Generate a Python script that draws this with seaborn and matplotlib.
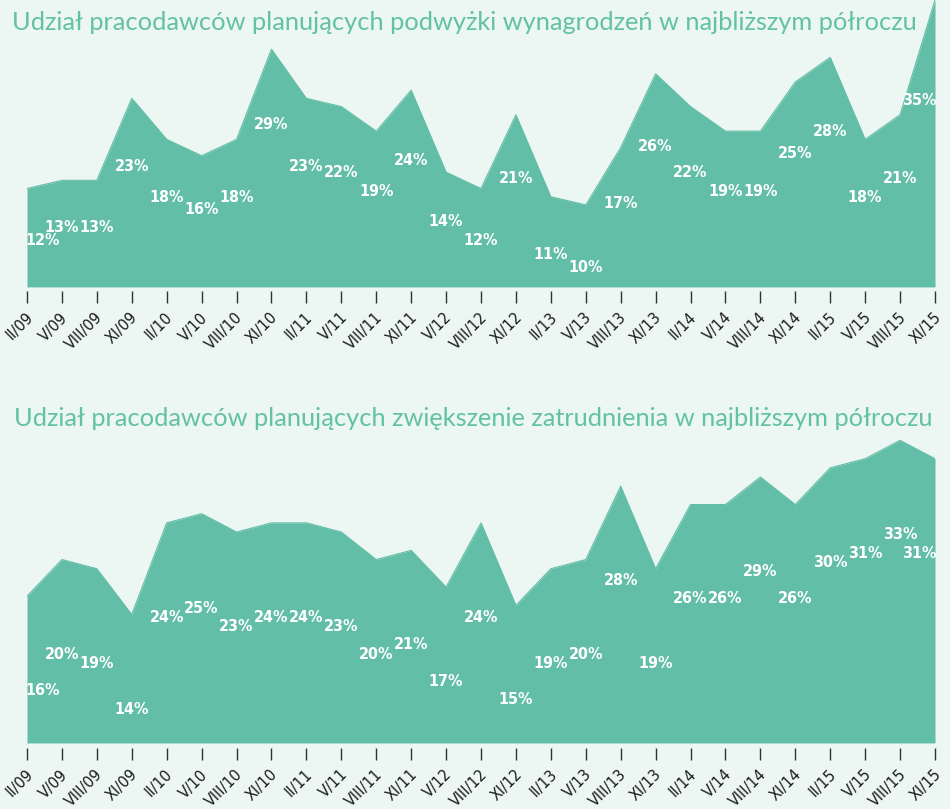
import numpy as np
import pandas as pd
import seaborn as sns
import matplotlib
matplotlib.use("Agg")
import matplotlib.pyplot as plt
from matplotlib.transforms import ScaledTranslation

# ---------------- data ----------------
periods = ["II/09", "V/09", "VIII/09", "XI/09", "II/10", "V/10", "VIII/10", "XI/10",
           "II/11", "V/11", "VIII/11", "XI/11", "V/12", "VIII/12", "XI/12", "II/13",
           "V/13", "VIII/13", "XI/13", "II/14", "V/14", "VIII/14", "XI/14", "II/15",
           "V/15", "VIII/15", "XI/15"]
raise_pct = [12, 13, 13, 23, 18, 16, 18, 29, 23, 22, 19, 24, 14, 12, 21, 11,
             10, 17, 26, 22, 19, 19, 25, 28, 18, 21, 35]
hire_pct = [16, 20, 19, 14, 24, 25, 23, 24, 24, 23, 20, 21, 17, 24, 15, 19,
            20, 28, 19, 26, 26, 29, 26, 30, 31, 33, 31]
title_top = "Udział pracodawców planujących podwyżki wynagrodzeń w najbliższym półroczu"
title_bottom = "Udział pracodawców planujących zwiększenie zatrudnienia w najbliższym półroczu"

# ---------------- style ----------------
BG = "#ecf6f2"
FILL = "#62bea6"
TITLE_C = "#62c2a3"
sns.set_theme(style="white")
plt.rcParams["font.family"] = ["Lato", "DejaVu Sans"]

W, H = 950, 809
fig = plt.figure(figsize=(W / 100, H / 100), dpi=100, facecolor=BG)

def px_axes(x0, y_top, x1, y_bot):
    return fig.add_axes([x0 / W, 1 - y_bot / H, (x1 - x0) / W, (y_bot - y_top) / H])

ax1 = px_axes(27, 0, 935, 291)
ax2 = px_axes(27, 422, 935, 748)

label_font = dict(family="DejaVu Sans", stretch="condensed", weight="bold",
                  size=11.5, color="white")

def draw(ax, vals, ylim, label_pos):
    df = pd.DataFrame({"idx": np.arange(len(vals)), "val": vals})
    ax.set_facecolor(BG)
    ax.fill_between(df["idx"], 0, df["val"], color=FILL, lw=0, zorder=1)
    sns.lineplot(data=df, x="idx", y="val", ax=ax, color=FILL, lw=0.8, zorder=2)
    ax.set_xlim(0, len(vals) - 1)
    ax.set_ylim(*ylim)
    n = len(vals)
    for i, v in enumerate(vals):
        x = min(max(i, 0.45), n - 1 - 0.45)
        ax.text(x, label_pos(v), f"{v}%", ha="center", va="center", **label_font,
                zorder=3)
    for s in ax.spines.values():
        s.set_visible(False)
    ax.set_yticks([])
    ax.set_xlabel("")
    ax.set_ylabel("")
    ax.set_xticks(np.arange(n))
    ax.set_xticklabels(periods, rotation=45, ha="right", va="top",
                       family="DejaVu Sans", stretch="condensed", size=11.5,
                       color="#1a1a1a")
    ax.tick_params(axis="x", direction="out", length=8.6, width=1.0,
                   color="#333333", pad=5, bottom=True)
    off = ScaledTranslation(9 / 100, 0, fig.dpi_scale_trans)
    for lab in ax.get_xticklabels():
        lab.set_transform(lab.get_transform() + off)

draw(ax1, raise_pct, (-0.5, 35),
     lambda v: np.interp(v, [10, 13, 24, 29, 35], [2.4, 7.2, 15.4, 19.8, 22.7]))
draw(ax2, hire_pct, (-0.55, 35), lambda v: v - 10.3)

fig.text(12 / W, 1 - 22 / H, title_top, ha="left", va="center", color=TITLE_C,
         fontsize=18.3, fontweight="normal", zorder=5)
fig.text(14 / W, 1 - 419 / H, title_bottom, ha="left", va="center", color=TITLE_C,
         fontsize=18.3, fontweight="normal", zorder=5)

fig.savefig("out.png", dpi=100, facecolor=BG)
